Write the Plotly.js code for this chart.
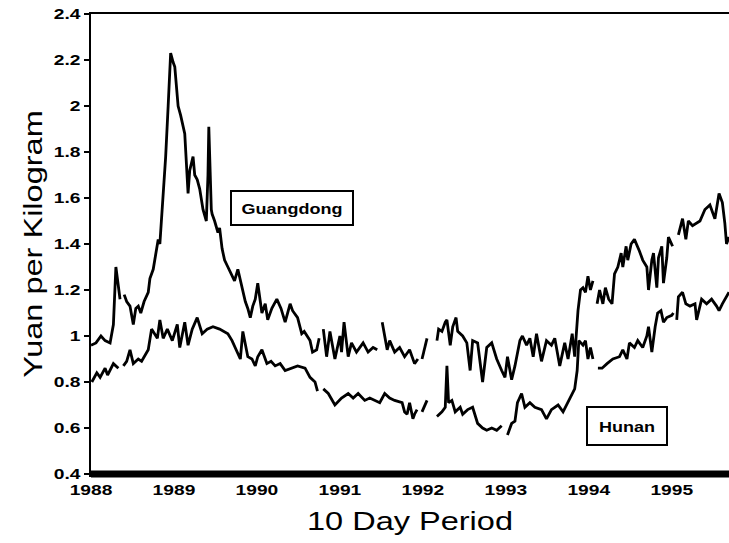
<!DOCTYPE html>
<html>
<head>
<meta charset="utf-8">
<script src="https://cdn.plot.ly/plotly-3.0.1.min.js"></script>
<style>
html,body{margin:0;padding:0;background:#fff;}
#chart{width:729px;height:543px;}
</style>
</head>
<body>
<div id="chart"></div>
<script>
// Guangdong: 10-day period (decimal year) and price (yuan/kg); null = missing
var gdT = [1988.00,1988.06,1988.12,1988.17,1988.23,1988.27,1988.30,1988.33,1988.35,1988.37,1988.40,1988.43,1988.47,1988.51,1988.54,1988.57,1988.60,1988.64,1988.69,1988.71,1988.75,1988.77,1988.81,1988.83,1988.84,1988.87,1988.90,1988.93,1988.96,1988.99,1989.01,1989.05,1989.08,1989.13,1989.17,1989.19,1989.23,1989.25,1989.28,1989.31,1989.35,1989.39,1989.41,1989.42,1989.43,1989.45,1989.46,1989.49,1989.53,1989.55,1989.58,1989.61,1989.65,1989.70,1989.73,1989.77,1989.82,1989.86,1989.89,1989.92,1989.95,1989.98,1990.01,1990.06,1990.10,1990.13,1990.18,1990.24,1990.29,1990.34,1990.40,1990.43,1990.49,1990.54,1990.57,1990.64,1990.67,1990.72,1990.75,1990.77,1990.80,1990.84,1990.88,1990.94,1991.00,1991.02,1991.05,1991.10,1991.14,1991.20,1991.28,1991.34,1991.40,1991.45,1991.48,1991.51,1991.57,1991.60,1991.66,1991.72,1991.78,1991.84,1991.90,1991.94,1991.96,1991.99,1992.05,1992.10,1992.17,1992.19,1992.23,1992.27,1992.29,1992.33,1992.36,1992.40,1992.42,1992.48,1992.53,1992.57,1992.60,1992.66,1992.72,1992.77,1992.83,1992.89,1992.95,1992.99,1993.02,1993.07,1993.11,1993.17,1993.20,1993.25,1993.29,1993.33,1993.37,1993.43,1993.49,1993.55,1993.59,1993.65,1993.71,1993.75,1993.80,1993.83,1993.87,1993.90,1993.93,1993.96,1993.99,1994.02,1994.05,1994.07,1994.10,1994.13,1994.17,1994.20,1994.24,1994.28,1994.31,1994.35,1994.39,1994.41,1994.45,1994.47,1994.51,1994.55,1994.61,1994.65,1994.70,1994.72,1994.76,1994.78,1994.82,1994.84,1994.88,1994.90,1994.94,1994.96,1995.01,1995.03,1995.08,1995.13,1995.17,1995.20,1995.25,1995.34,1995.40,1995.46,1995.52,1995.57,1995.61,1995.64,1995.66,1995.69];
var gdV = [0.96,0.97,1.00,0.98,0.97,1.05,1.30,1.20,1.16,null,1.18,1.15,1.13,1.05,1.12,1.13,1.10,1.15,1.19,1.25,1.29,1.34,1.42,1.40,1.45,1.62,1.78,2.00,2.23,2.19,2.17,2.00,1.96,1.88,1.62,1.72,1.78,1.70,1.68,1.64,1.55,1.50,1.70,1.91,1.75,1.55,1.53,1.50,1.45,1.47,1.38,1.33,1.30,1.26,1.24,1.29,1.21,1.15,1.12,1.08,1.13,1.16,1.23,1.10,1.14,1.07,1.12,1.16,1.12,1.06,1.14,1.11,1.08,1.01,1.02,0.98,0.93,0.94,0.99,null,1.03,0.91,1.02,0.90,1.00,0.93,1.06,0.91,0.97,0.93,0.97,0.93,0.95,0.94,null,1.06,0.94,0.98,0.93,0.95,0.91,0.94,0.88,0.90,null,0.90,0.99,null,0.98,1.03,1.02,1.06,1.07,0.96,1.04,1.08,1.02,1.00,0.97,0.85,0.98,0.97,0.80,0.95,0.97,0.90,0.85,0.82,0.91,0.81,0.87,0.98,1.00,0.96,0.99,0.91,1.01,0.89,0.98,0.96,0.99,0.87,0.97,0.90,1.01,0.91,1.11,1.20,1.21,1.19,1.26,1.20,1.24,null,1.14,1.20,1.14,1.21,1.16,1.14,1.27,1.30,1.36,1.30,1.39,1.33,1.40,1.42,1.37,1.33,1.30,1.20,1.33,1.36,1.21,1.34,1.39,1.23,1.34,1.43,1.39,null,1.44,1.51,1.42,1.50,1.48,1.50,1.55,1.57,1.51,1.62,1.58,1.49,1.40,1.43];

// Hunan
var hnT = [1988.01,1988.07,1988.11,1988.17,1988.20,1988.27,1988.33,1988.36,1988.39,1988.43,1988.47,1988.51,1988.57,1988.61,1988.69,1988.73,1988.80,1988.83,1988.87,1988.92,1988.98,1989.04,1989.07,1989.13,1989.17,1989.22,1989.28,1989.34,1989.40,1989.47,1989.55,1989.65,1989.70,1989.76,1989.80,1989.83,1989.87,1989.89,1989.94,1989.98,1990.01,1990.06,1990.12,1990.17,1990.22,1990.28,1990.34,1990.42,1990.49,1990.58,1990.64,1990.70,1990.73,1990.75,1990.80,1990.86,1990.94,1991.02,1991.10,1991.16,1991.22,1991.30,1991.36,1991.42,1991.48,1991.54,1991.60,1991.66,1991.75,1991.78,1991.81,1991.84,1991.88,1991.90,1991.93,1991.95,1991.99,1992.05,1992.10,1992.17,1992.23,1992.27,1992.29,1992.31,1992.35,1992.39,1992.45,1992.48,1992.54,1992.60,1992.66,1992.72,1992.77,1992.83,1992.89,1992.95,1992.98,1993.02,1993.07,1993.11,1993.14,1993.19,1993.23,1993.29,1993.35,1993.43,1993.49,1993.55,1993.63,1993.69,1993.77,1993.83,1993.86,1993.88,1993.93,1993.96,1993.99,1994.02,1994.05,1994.07,1994.11,1994.16,1994.22,1994.29,1994.37,1994.41,1994.46,1994.49,1994.55,1994.59,1994.65,1994.70,1994.72,1994.76,1994.80,1994.83,1994.87,1994.90,1994.94,1995.00,1995.02,1995.04,1995.06,1995.08,1995.13,1995.17,1995.22,1995.28,1995.30,1995.36,1995.42,1995.48,1995.54,1995.57,1995.61,1995.69];
var hnV = [0.80,0.84,0.82,0.86,0.83,0.88,0.86,null,0.87,0.89,0.94,0.88,0.90,0.89,0.94,1.03,0.99,1.07,0.99,1.03,0.98,1.05,0.95,1.06,0.96,1.03,1.08,1.01,1.03,1.04,1.03,1.01,0.98,0.93,0.90,1.02,0.95,0.91,0.90,0.87,0.91,0.94,0.88,0.89,0.87,0.88,0.85,0.86,0.87,0.86,0.82,0.80,0.76,null,0.77,0.75,0.70,0.73,0.75,0.73,0.75,0.72,0.73,0.72,0.71,0.75,0.73,0.72,0.71,0.67,0.66,0.71,0.64,0.66,0.68,null,0.67,0.72,null,0.65,0.67,0.69,0.87,0.71,0.72,0.67,0.69,0.66,0.68,0.69,0.62,0.60,0.59,0.60,0.59,0.61,null,0.57,0.62,0.63,0.71,0.75,0.69,0.71,0.69,0.68,0.64,0.68,0.70,0.67,0.73,0.77,0.85,0.98,0.96,0.98,0.90,0.95,0.90,null,0.86,0.86,0.88,0.90,0.91,0.94,0.90,0.97,0.95,0.98,0.95,1.00,1.04,0.93,1.04,1.10,1.11,1.06,1.08,1.09,1.10,null,1.07,1.17,1.19,1.14,1.13,1.14,1.07,1.16,1.14,1.16,1.13,1.11,1.14,1.19];

var yearTicks = [1988,1989,1990,1991,1992,1993,1994,1995];
var yearLabels = ['1988','1989','1990','1991','1992','1993','1994','1995'];
var priceTicks = [0.4,0.6,0.8,1.0,1.2,1.4,1.6,1.8,2.0,2.2,2.4];
var priceLabels = ['0.4','0.6','0.8','1','1.2','1.4','1.6','1.8','2','2.2','2.4'];
var seriesNames = ['Guangdong','Hunan'];

var lineStyle = {color:'#000', width:2.8};
var data = [
  {x:gdT, y:gdV, type:'scatter', mode:'lines', name:seriesNames[0], line:lineStyle, connectgaps:false},
  {x:hnT, y:hnV, type:'scatter', mode:'lines', name:seriesNames[1], line:lineStyle, connectgaps:false}
];

var tickFont = {family:'Liberation Sans, Arial, sans-serif', size:15, color:'#000', weight:'bold'};
var titleFont = {family:'Liberation Sans, Arial, sans-serif', size:26, color:'#000'};

var layout = {
  width:729, height:543,
  margin:{l:91, r:0, t:14, b:69},
  paper_bgcolor:'#fff', plot_bgcolor:'#fff',
  showlegend:false,
  xaxis:{
    range:[1988,1995.69],
    tickvals:yearTicks, ticktext:yearLabels,
    ticks:'', showgrid:false, zeroline:false,
    showline:true, linecolor:'#000', linewidth:2.5, mirror:true,
    tickfont:tickFont,
    title:{text:'10 Day Period', font:titleFont, standoff:16}
  },
  yaxis:{
    range:[0.4,2.4],
    tickvals:priceTicks, ticktext:priceLabels,
    ticks:'outside', ticklen:5, tickwidth:2, tickcolor:'#000',
    showgrid:false, zeroline:false,
    showline:true, linecolor:'#000', linewidth:2.5,
    tickfont:tickFont,
    title:{text:'Yuan per Kilogram', font:titleFont, standoff:10}
  },
  shapes:[
    {type:'line', xref:'paper', yref:'paper', x0:0, x1:1, y0:0, y1:0, line:{color:'#000', width:7}, layer:'above'}
  ],
  annotations:[
    {x:1990.42, y:1.557, xref:'x', yref:'y', text:'<b>Guangdong</b>', showarrow:false,
     font:{family:'Liberation Sans, Arial, sans-serif', size:15, color:'#000'},
     bordercolor:'#000', borderwidth:2, borderpad:0, bgcolor:'#fff', width:120, height:32},
    {x:1994.46, y:0.609, xref:'x', yref:'y', text:'<b>Hunan</b>', showarrow:false,
     font:{family:'Liberation Sans, Arial, sans-serif', size:15, color:'#000'},
     bordercolor:'#000', borderwidth:2, borderpad:0, bgcolor:'#fff', width:78, height:36}
  ]
};

Plotly.newPlot('chart', data, layout, {staticPlot:true}).then(function(gd){
  var stretch = function(selector, k){
    gd.querySelectorAll(selector).forEach(function(t){
      var w = t.getComputedTextLength();
      if (w > 0) {
        t.setAttribute('textLength', (w*k).toFixed(1));
        t.setAttribute('lengthAdjust', 'spacingAndGlyphs');
      }
    });
  };
  stretch('.xtick text, .ytick text', 1.28);
  stretch('.g-xtitle text, .g-ytitle text', 1.25);
  stretch('.annotation-text', 1.2);
});
</script>
</body>
</html>
